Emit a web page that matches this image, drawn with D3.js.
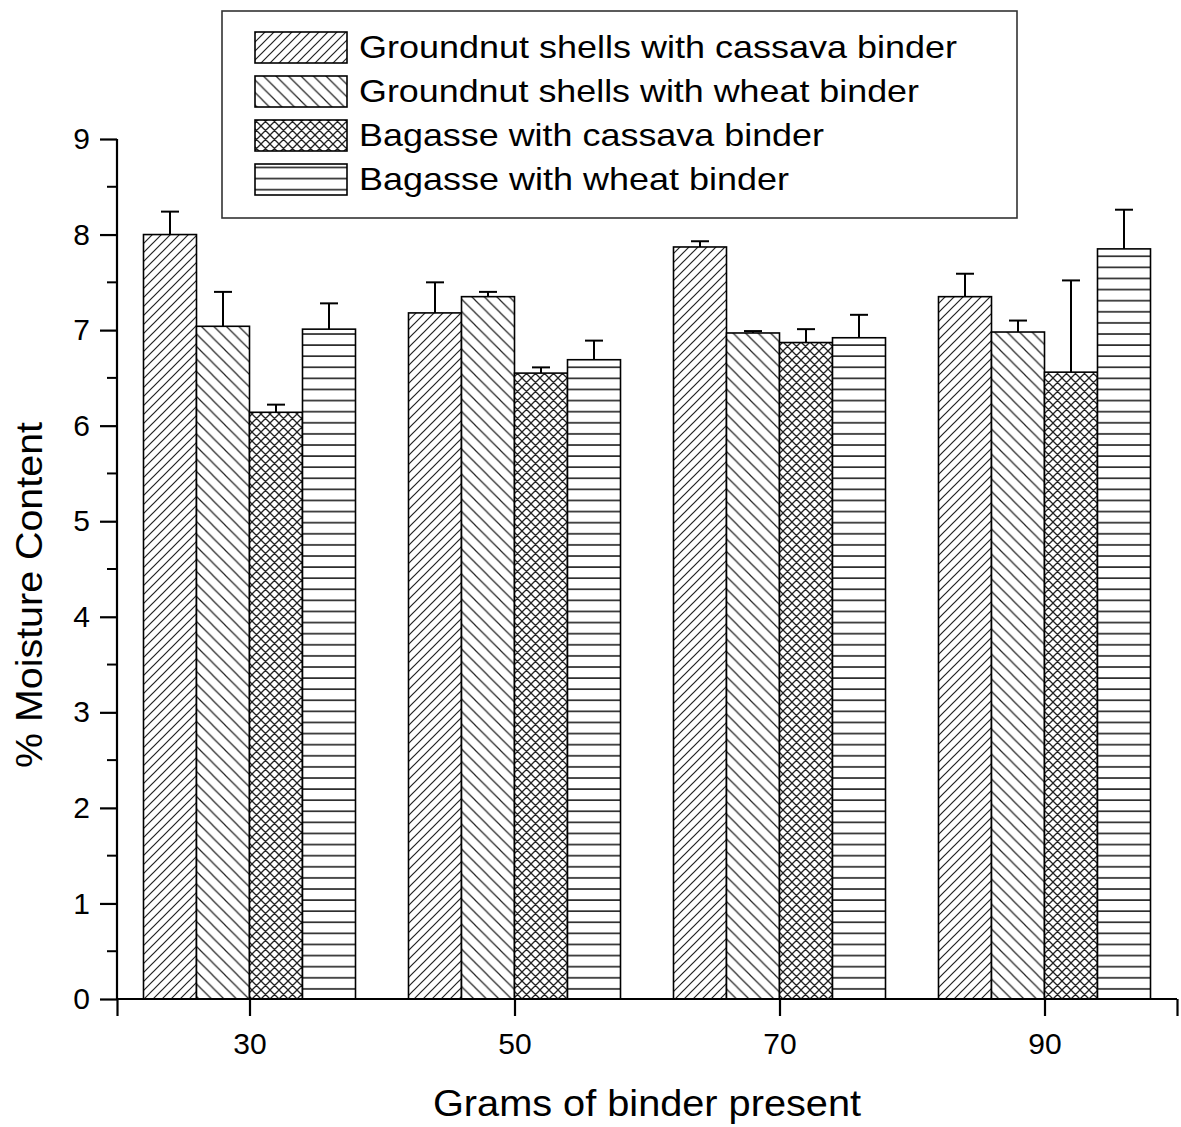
<!DOCTYPE html>
<html>
<head>
<meta charset="utf-8">
<script src="https://cdn.jsdelivr.net/npm/d3@7"></script>
<style>
  html, body { margin: 0; padding: 0; background: #fff; }
  svg text { font-family: "Liberation Sans", Arial, sans-serif; fill: #000; }
</style>
</head>
<body>
<svg id="chart" width="1181" height="1127"></svg>
<script>
// Binder amounts (grams) on the x axis
const categories = [30, 50, 70, 90];

const seriesNames = [
  "Groundnut shells with cassava binder",
  "Groundnut shells with wheat binder",
  "Bagasse with cassava binder",
  "Bagasse with wheat binder"
];

// Mean % moisture content per series
const gsCassava = [8.00, 7.18, 7.87, 7.35];
const gsWheat   = [7.04, 7.35, 6.97, 6.98];
const bgCassava = [6.14, 6.55, 6.87, 6.56];
const bgWheat   = [7.01, 6.69, 6.92, 7.85];

// Upper error (standard deviation) per series
const gsCassavaErr = [0.24, 0.32, 0.06, 0.24];
const gsWheatErr   = [0.36, 0.05, 0.02, 0.12];
const bgCassavaErr = [0.08, 0.06, 0.14, 0.96];
const bgWheatErr   = [0.27, 0.20, 0.24, 0.41];

const yTicks = [0, 1, 2, 3, 4, 5, 6, 7, 8, 9];
const yMinorTicks = [0.5, 1.5, 2.5, 3.5, 4.5, 5.5, 6.5, 7.5, 8.5];
const xTicks = [20, 30, 50, 70, 90, 100];
const xLabelTicks = [30, 50, 70, 90];

const values = [gsCassava, gsWheat, bgCassava, bgWheat];
const errors = [gsCassavaErr, gsWheatErr, bgCassavaErr, bgWheatErr];
const patternIds = ["hatchFwd", "hatchBack", "hatchCross", "hatchHoriz"];
const barWidthUnits = 4;
const offsets = [-6, -2, 2, 6];

const svg = d3.select("#chart");
const x = d3.scaleLinear().domain([20, 100]).range([117, 1177]);
const y = d3.scaleLinear().domain([0, 9]).range([999, 139]);

// ---- hatch patterns ----
const defs = svg.append("defs");
const lineColor = "#222";

function diagPattern(id, s, dir, sw) {
  const p = defs.append("pattern").attr("id", id)
    .attr("patternUnits", "userSpaceOnUse")
    .attr("width", s).attr("height", s);
  p.append("rect").attr("width", s).attr("height", s).attr("fill", "#fff");
  const q = s / 4;
  const d = dir > 0
    ? `M0,${s} L${s},0 M${-q},${q} L${q},${-q} M${s - q},${s + q} L${s + q},${s - q}`
    : `M0,0 L${s},${s} M${-q},${s - q} L${q},${s + q} M${s - q},${-q} L${s + q},${q}`;
  p.append("path").attr("d", d).attr("stroke", lineColor).attr("stroke-width", sw).attr("fill", "none");
  return p;
}
diagPattern("hatchFwd", 9, 1, 1.2);
diagPattern("hatchBack", 12.5, -1, 1.2);
{
  const s = 9, q = s / 4;
  const p = defs.append("pattern").attr("id", "hatchCross")
    .attr("patternUnits", "userSpaceOnUse").attr("width", s).attr("height", s);
  p.append("rect").attr("width", s).attr("height", s).attr("fill", "#fff");
  p.append("path")
    .attr("d", `M0,${s} L${s},0 M${-q},${q} L${q},${-q} M${s - q},${s + q} L${s + q},${s - q} ` +
               `M0,0 L${s},${s} M${-q},${s - q} L${q},${s + q} M${s - q},${-q} L${s + q},${q}`)
    .attr("stroke", lineColor).attr("stroke-width", 1.3).attr("fill", "none");
}
{
  const h = 11.1;
  const p = defs.append("pattern").attr("id", "hatchHoriz")
    .attr("patternUnits", "userSpaceOnUse").attr("width", 20).attr("height", h)
    .attr("y", 999);
  p.append("rect").attr("width", 20).attr("height", h).attr("fill", "#fff");
  p.append("line").attr("x1", 0).attr("x2", 20).attr("y1", 1).attr("y2", 1)
    .attr("stroke", "#111").attr("stroke-width", 1.5);
}

// ---- bars ----
const barData = [];
values.forEach((vals, si) => {
  vals.forEach((v, ci) => {
    barData.push({ si, cat: categories[ci], v, err: errors[si][ci] });
  });
});

const bars = svg.append("g");
bars.selectAll("rect").data(barData).join("rect")
  .attr("x", d => x(d.cat + offsets[d.si] - barWidthUnits / 2))
  .attr("width", d => x(d.cat + offsets[d.si] + barWidthUnits / 2) - x(d.cat + offsets[d.si] - barWidthUnits / 2))
  .attr("y", d => y(d.v))
  .attr("height", d => y(0) - y(d.v))
  .attr("fill", d => `url(#${patternIds[d.si]})`)
  .attr("stroke", "#000").attr("stroke-width", 1.6);

// ---- error bars (upper only) ----
const eb = svg.append("g").attr("stroke", "#000").attr("stroke-width", 2);
barData.forEach(d => {
  const cx = x(d.cat + offsets[d.si]);
  eb.append("line").attr("x1", cx).attr("x2", cx).attr("y1", y(d.v)).attr("y2", y(d.v + d.err));
  eb.append("line").attr("x1", cx - 9).attr("x2", cx + 9).attr("y1", y(d.v + d.err)).attr("y2", y(d.v + d.err));
});

// ---- y axis ----
const yAxis = svg.append("g").attr("transform", `translate(${x(20)},0)`)
  .call(d3.axisLeft(y).tickValues(yTicks).tickSize(17).tickPadding(10).tickFormat(d3.format("d")));
yAxis.append("g").selectAll("line").data(yMinorTicks).join("line")
  .attr("x1", -10).attr("x2", 0).attr("y1", d => y(d)).attr("y2", d => y(d))
  .attr("stroke", "#000").attr("stroke-width", 2);
yAxis.select(".domain").attr("d", `M0,${y(9)}V${y(0)}`);

// ---- x axis ----
const xAxis = svg.append("g").attr("transform", `translate(0,${y(0)})`)
  .call(d3.axisBottom(x).tickValues(xTicks).tickSize(17).tickPadding(17)
    .tickFormat(d => xLabelTicks.includes(d) ? d : ""));
xAxis.select(".domain").attr("d", `M${x(20)},0H${x(100)}`);

[yAxis, xAxis].forEach(a => {
  a.select(".domain").attr("stroke", "#000").attr("stroke-width", 2.2);
  a.selectAll(".tick line").attr("stroke", "#000").attr("stroke-width", 2.2);
  a.selectAll(".tick text").attr("font-size", 30).attr("font-family", "Liberation Sans, Arial, sans-serif");
});

// ---- axis titles ----
svg.append("text")
  .attr("x", 647).attr("y", 1116)
  .attr("text-anchor", "middle")
  .attr("font-size", 37)
  .attr("textLength", 428).attr("lengthAdjust", "spacingAndGlyphs")
  .text("Grams of binder present");

svg.append("text")
  .attr("transform", "translate(42,595) rotate(-90)")
  .attr("text-anchor", "middle")
  .attr("font-size", 37)
  .attr("textLength", 346).attr("lengthAdjust", "spacingAndGlyphs")
  .text("% Moisture Content");

// ---- legend ----
const legend = svg.append("g");
legend.append("rect").attr("x", 222).attr("y", 11).attr("width", 795).attr("height", 207)
  .attr("fill", "#fff").attr("stroke", "#333").attr("stroke-width", 1.6);
const legendWidths = [598, 560, 465, 430];
seriesNames.forEach((name, i) => {
  const top = 32 + i * 44;
  legend.append("rect").attr("x", 255).attr("y", top).attr("width", 92).attr("height", 31)
    .attr("fill", `url(#${patternIds[i]})`).attr("stroke", "#000").attr("stroke-width", 1.6);
  legend.append("text").attr("x", 359).attr("y", top + 26)
    .attr("font-size", 32)
    .attr("textLength", legendWidths[i]).attr("lengthAdjust", "spacingAndGlyphs")
    .text(name);
});
</script>
</body>
</html>
